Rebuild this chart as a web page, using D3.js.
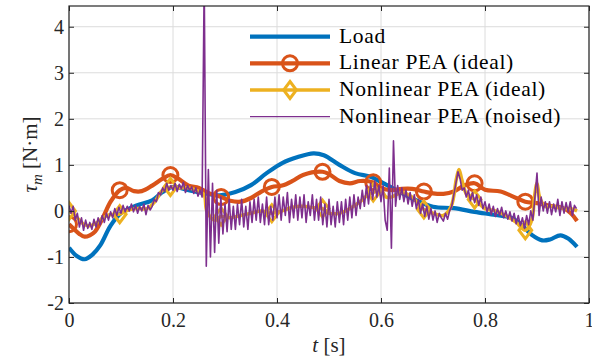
<!DOCTYPE html>
<html><head><meta charset="utf-8">
<script src="https://cdn.jsdelivr.net/npm/d3@7"></script>
<style>body{margin:0;background:#fff}svg{display:block}text{font-family:"Liberation Serif","DejaVu Serif",serif}</style>
</head><body>
<svg id="c" width="592" height="358"></svg>
<script>
// ---- data ----
const xTicks = [0, 0.2, 0.4, 0.6, 0.8, 1];
const xTickLabels = ["0", "0.2", "0.4", "0.6", "0.8", "1"];
const yTicks = [-2, -1, 0, 1, 2, 3, 4];
const yTickLabels = ["-2", "-1", "0", "1", "2", "3", "4"];
const seriesNames = ["Load", "Linear PEA (ideal)", "Nonlinear PEA (ideal)", "Nonlinear PEA (noised)"];
const markerTimes = [0, 0.0975, 0.195, 0.2925, 0.39, 0.4875, 0.585, 0.6825, 0.78, 0.8775];

const loadT = [0,0.015,0.03,0.045,0.06,0.08,0.1,0.13,0.16,0.18,0.2,0.23,0.26,0.29,0.32,0.35,0.38,0.41,0.44,0.47,0.49,0.52,0.55,0.58,0.6,0.63,0.66,0.7,0.74,0.78,0.82,0.85,0.87,0.89,0.91,0.925,0.945,0.96,0.977];
const loadV = [-0.8,-0.98,-1.05,-0.95,-0.75,-0.32,-0.05,0.12,0.23,0.41,0.52,0.45,0.38,0.34,0.41,0.56,0.82,1.04,1.17,1.25,1.21,1.0,0.82,0.74,0.63,0.45,0.27,0.09,0.06,-0.02,-0.09,-0.15,-0.3,-0.52,-0.64,-0.62,-0.53,-0.6,-0.78];

const linT = [0,0.01,0.02,0.03,0.04,0.05,0.065,0.08,0.0975,0.11,0.125,0.14,0.16,0.18,0.195,0.21,0.23,0.25,0.27,0.2925,0.31,0.33,0.35,0.37,0.39,0.41,0.43,0.45,0.4875,0.5,0.52,0.54,0.56,0.585,0.6,0.62,0.64,0.66,0.6825,0.7,0.72,0.74,0.76,0.78,0.8,0.83,0.86,0.8775,0.9,0.93,0.95,0.965,0.977];
const linV = [-0.29,-0.4,-0.5,-0.56,-0.53,-0.45,-0.15,0.2,0.45,0.5,0.43,0.43,0.55,0.7,0.78,0.7,0.55,0.5,0.38,0.3,0.22,0.2,0.28,0.42,0.52,0.55,0.65,0.78,0.85,0.8,0.65,0.6,0.65,0.62,0.5,0.45,0.48,0.48,0.42,0.38,0.37,0.42,0.55,0.6,0.46,0.42,0.28,0.2,0.17,0.1,0.06,-0.05,-0.22];

const nlT = [0,0.01,0.02,0.03,0.04,0.05,0.06,0.07,0.08,0.0975,0.11,0.13,0.15,0.165,0.18,0.195,0.21,0.23,0.25,0.26,0.265,0.28,0.2925,0.31,0.33,0.35,0.37,0.39,0.41,0.43,0.45,0.47,0.4875,0.5,0.52,0.54,0.56,0.575,0.585,0.6,0.61,0.62,0.64,0.66,0.6825,0.7,0.72,0.735,0.745,0.75,0.755,0.765,0.78,0.8,0.82,0.84,0.86,0.8775,0.89,0.895,0.9,0.905,0.915,0.93,0.95,0.965,0.977];
const nlV = [0.0,-0.08,-0.2,-0.3,-0.32,-0.28,-0.2,-0.12,-0.08,-0.07,0.0,0.05,0.05,0.2,0.45,0.52,0.5,0.5,0.42,0.35,0.0,-0.2,-0.12,-0.15,-0.1,-0.05,0.0,-0.05,0.0,0.08,0.1,0.07,0.05,-0.05,-0.05,0.05,0.2,0.35,0.4,0.45,0.3,0.3,0.4,0.3,0.03,-0.05,-0.1,0.1,0.7,0.9,0.7,0.35,0.25,0.05,0.0,-0.1,-0.25,-0.42,-0.2,0.3,0.6,0.3,0.1,0.1,0.05,0.05,0.0];

const noisedDt = 0.004;
const noisedV = [
 0.12,-0.05,0.1,-0.2,-0.05,-0.35,-0.15,-0.42,-0.2,-0.38,
 -0.25,-0.4,-0.18,-0.35,-0.15,-0.3,-0.1,-0.25,-0.05,-0.2,
 -0.02,-0.15,0.05,-0.1,0.08,-0.05,0.12,-0.02,0.1,0.0,
 0.15,-0.02,0.12,-0.05,0.1,0.0,0.15,-0.08,0.12,0.02,
 0.1,0.25,0.2,0.4,0.35,0.5,0.42,0.6,0.45,0.55,
 0.45,0.6,0.42,0.58,0.48,0.62,0.4,0.55,0.45,0.52,
 0.38,0.5,0.32,0.45,0.3,5.0,-1.2,0.9,-1.0,0.6,
 -0.9,0.45,-0.7,0.3,-0.5,0.15,-0.45,0.25,-0.4,0.1,
 -0.4,0.15,-0.3,0.25,-0.35,0.1,-0.4,0.2,-0.25,0.25,
 -0.2,0.3,-0.25,0.15,-0.3,0.3,-0.3,0.1,-0.2,0.3,
 -0.15,0.35,-0.2,0.3,-0.1,0.4,-0.25,0.25,-0.15,0.35,
 -0.2,0.3,-0.15,0.35,-0.25,0.2,-0.1,0.35,-0.2,0.25,
 -0.2,0.3,-0.3,0.15,-0.35,0.25,-0.3,0.1,-0.35,0.2,
 -0.25,0.2,-0.3,0.25,-0.2,0.3,-0.15,0.35,-0.1,0.3,
 0.05,0.45,0.1,0.55,0.15,0.6,0.25,0.65,0.3,0.55,
 0.2,0.55,-0.2,-0.42,0.93,-0.81,1.52,0.1,0.55,0.25,
 0.5,0.2,0.45,0.15,0.4,0.1,0.35,0.05,0.25,-0.05,
 0.15,-0.12,0.1,-0.18,0.05,-0.2,0.0,-0.25,-0.05,-0.15,
 -0.22,-0.05,-0.18,0.0,0.1,0.35,0.6,0.85,0.7,0.45,
 0.5,0.3,0.45,0.22,0.4,0.18,0.35,0.12,0.3,0.05,
 0.2,-0.02,0.15,-0.08,0.1,-0.12,0.05,-0.1,0.08,-0.15,
 0.0,-0.18,-0.02,-0.22,-0.05,-0.28,-0.1,-0.32,-0.15,-0.38,
 -0.1,-0.3,0.0,-0.2,0.3,0.82,-0.1,0.3,0.0,0.2,
 -0.05,0.2,-0.08,0.15,-0.02,0.25,-0.1,0.2,-0.05,0.18,
 -0.02,0.2,-0.1,0.12,0.05
];

// ---- layout / style ----
const colors = ["#0072BD", "#D95319", "#EDB120", "#7E2F8E"];
const L = 69, R = 589, T = 6, B = 303;
const x = d3.scaleLinear().domain([0, 1]).range([L, R]);
const y = d3.scaleLinear().domain([-2, 4.45]).range([B, T]);

const svg = d3.select("#c");
svg.append("rect").attr("width", 592).attr("height", 358).attr("fill", "#fff");
svg.append("defs").append("clipPath").attr("id", "clip")
  .append("rect").attr("x", L).attr("y", T).attr("width", R - L).attr("height", B - T);

// grid
const grid = svg.append("g").attr("stroke", "#dcdcdc").attr("stroke-width", 1);
xTicks.forEach(t => grid.append("line").attr("x1", x(t)).attr("x2", x(t)).attr("y1", T).attr("y2", B));
yTicks.forEach(t => grid.append("line").attr("y1", y(t)).attr("y2", y(t)).attr("x1", L).attr("x2", R));

// data
const plot = svg.append("g").attr("clip-path", "url(#clip)");
const zip = (ts, vs) => ts.map((t, i) => [t, vs[i]]);
const smooth = d3.line().x(d => x(d[0])).y(d => y(d[1])).curve(d3.curveCatmullRom.alpha(0.5));
const straight = d3.line().x(d => x(d[0])).y(d => y(d[1]));

const loadData = zip(loadT, loadV);
const linData = zip(linT, linV);
const nlData = zip(nlT, nlV);
const noisedData = noisedV.map((v, i) => [i * noisedDt, v]);

plot.append("path").attr("d", smooth(loadData)).attr("fill", "none")
  .attr("stroke", colors[0]).attr("stroke-width", 4.2).attr("stroke-linejoin", "round");
plot.append("path").attr("d", smooth(linData)).attr("fill", "none")
  .attr("stroke", colors[1]).attr("stroke-width", 4.2).attr("stroke-linejoin", "round");
plot.selectAll(".circ").data(linData.filter(d => markerTimes.includes(d[0]))).enter()
  .append("circle").attr("cx", d => x(d[0])).attr("cy", d => y(d[1])).attr("r", 7.5)
  .attr("fill", "none").attr("stroke", colors[1]).attr("stroke-width", 3);
plot.append("path").attr("d", smooth(nlData)).attr("fill", "none")
  .attr("stroke", colors[2]).attr("stroke-width", 3.5).attr("stroke-linejoin", "round");
const diamond = (cx, cy, s) => `M${cx},${cy - s}L${cx + s * 0.75},${cy}L${cx},${cy + s}L${cx - s * 0.75},${cy}Z`;
plot.selectAll(".diam").data(nlData.filter(d => markerTimes.includes(d[0]))).enter()
  .append("path").attr("d", d => diamond(x(d[0]), y(d[1]), 8.5))
  .attr("fill", "none").attr("stroke", colors[2]).attr("stroke-width", 3).attr("stroke-linejoin", "miter");
plot.append("path").attr("d", straight(noisedData)).attr("fill", "none")
  .attr("stroke", colors[3]).attr("stroke-width", 1.6).attr("stroke-linejoin", "round");

// axes (MATLAB style: box, inward ticks)
const axisColor = "#262626";
function styleAxis(g) {
  g.select(".domain").remove();
  g.attr("font-family", null).attr("font-size", null);
  g.selectAll(".tick line").attr("stroke", axisColor).attr("stroke-width", 1);
  g.selectAll(".tick text").attr("fill", axisColor).style("font-size", "20px");
}
svg.append("g").attr("transform", `translate(0,${B})`)
  .call(d3.axisBottom(x).tickValues(xTicks).tickFormat((d, i) => xTickLabels[i]).tickSizeInner(-5).tickSizeOuter(0).tickPadding(9.5))
  .call(styleAxis);
svg.append("g").attr("transform", `translate(0,${T})`)
  .call(d3.axisTop(x).tickValues(xTicks).tickFormat("").tickSizeInner(-5).tickSizeOuter(0))
  .call(styleAxis);
svg.append("g").attr("transform", `translate(${L},0)`)
  .call(d3.axisLeft(y).tickValues(yTicks).tickFormat((d, i) => yTickLabels[i]).tickSizeInner(-5).tickSizeOuter(0).tickPadding(5))
  .call(styleAxis);
svg.append("g").attr("transform", `translate(${R},0)`)
  .call(d3.axisRight(y).tickValues(yTicks).tickFormat("").tickSizeInner(-5).tickSizeOuter(0))
  .call(styleAxis);
svg.append("rect").attr("x", L).attr("y", T).attr("width", R - L).attr("height", B - T)
  .attr("fill", "none").attr("stroke", axisColor).attr("stroke-width", 1.2);

// axis labels
const xl = svg.append("text").attr("x", 329).attr("y", 352).attr("text-anchor", "middle")
  .attr("fill", axisColor).style("font-size", "21px");
xl.append("tspan").attr("font-style", "italic").text("t");
xl.append("tspan").text(" [s]");

const yl = svg.append("text").attr("transform", "translate(37,154.5) rotate(-90)").attr("text-anchor", "middle")
  .attr("fill", axisColor).style("font-size", "21px");
yl.append("tspan").attr("font-style", "italic").text("τ");
yl.append("tspan").attr("font-style", "italic").attr("dy", 5).style("font-size", "15px").text("m");
yl.append("tspan").attr("dy", -5).text(" [N·m]");

// legend (no box)
const legY = [36.7, 63.3, 90, 116.7];
const leg = svg.append("g");
seriesNames.forEach((name, i) => {
  leg.append("line").attr("x1", 250).attr("x2", 330).attr("y1", legY[i]).attr("y2", legY[i])
    .attr("stroke", colors[i]).attr("stroke-width", i === 3 ? 1.3 : (i === 2 ? 3.5 : 4.2));
  if (i === 1) leg.append("circle").attr("cx", 290).attr("cy", legY[i]).attr("r", 7.5)
    .attr("fill", "none").attr("stroke", colors[1]).attr("stroke-width", 3);
  if (i === 2) leg.append("path").attr("d", diamond(290, legY[i], 8.5))
    .attr("fill", "none").attr("stroke", colors[2]).attr("stroke-width", 3);
  leg.append("text").attr("x", 339).attr("y", legY[i] + 5.8).attr("fill", "#000")
    .style("font-size", "21.5px").style("letter-spacing", "0.7px").text(name);
});
</script>
</body></html>
